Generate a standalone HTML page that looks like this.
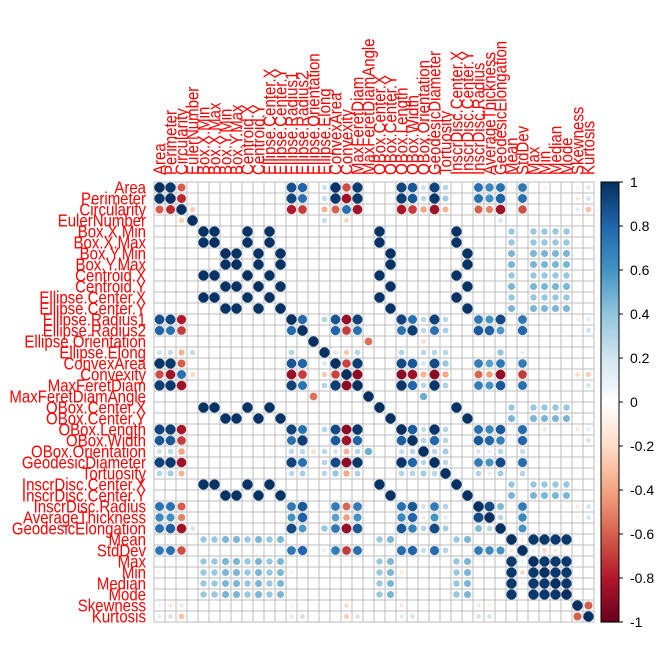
<!DOCTYPE html>
<html><head><meta charset="utf-8"><style>
html,body{margin:0;padding:0;background:#fff;}
svg text{font-family:"Liberation Sans",Arial,sans-serif;}
</style></head><body>
<svg id="chart" width="664" height="664" viewBox="0 0 664 664" xmlns="http://www.w3.org/2000/svg"></svg>
<script>
const variables = ["Area","Perimeter","Circularity","EulerNumber","Box.X.Min","Box.X.Max","Box.Y.Min","Box.Y.Max","Centroid.X","Centroid.Y","Ellipse.Center.X","Ellipse.Center.Y","Ellipse.Radius1","Ellipse.Radius2","Ellipse.Orientation","Ellipse.Elong","ConvexArea","Convexity","MaxFeretDiam","MaxFeretDiamAngle","OBox.Center.X","OBox.Center.Y","OBox.Length","OBox.Width","OBox.Orientation","GeodesicDiameter","Tortuosity","InscrDisc.Center.X","InscrDisc.Center.Y","InscrDisc.Radius","AverageThickness","GeodesicElongation","Mean","StdDev","Max","Min","Median","Mode","Skewness","Kurtosis"];
const baseValue = 0.03;
const xGroup = [4,5,8,10,20,27];
const yGroup = [6,7,9,11,21,28];
const xGroupCorr = 0.99;
const yGroupCorr = 0.99;
const intensityVars = [32,34,35,36,37];
const intensityCorr = 0.97;
const xIntensityCorr = 0.38;
const yIntensityCorr = 0.46;
const pairs = [
[0,1,0.97],[0,2,-0.6],[0,12,0.88],[0,13,0.8],[0,15,0.22],[0,16,0.98],[0,17,-0.65],[0,18,0.95],[0,22,0.92],[0,23,0.85],[0,24,0.22],[0,25,0.93],[0,26,0.3],[0,29,0.75],[0,30,0.65],[0,31,0.75],[0,33,0.72],[0,35,-0.1],[0,38,-0.1],[0,39,0.15],
[1,2,-0.75],[1,12,0.92],[1,13,0.75],[1,15,0.25],[1,16,0.97],[1,17,-0.85],[1,18,0.97],[1,22,0.95],[1,23,0.85],[1,24,0.28],[1,25,0.97],[1,26,0.35],[1,29,0.75],[1,30,0.62],[1,31,0.82],[1,33,0.75],[1,38,-0.15],[1,39,0.2],
[2,3,-0.25],[2,12,-0.8],[2,13,-0.7],[2,15,-0.35],[2,16,-0.6],[2,17,0.75],[2,18,-0.85],[2,22,-0.82],[2,23,-0.7],[2,24,-0.4],[2,25,-0.85],[2,26,-0.35],[2,29,-0.6],[2,30,-0.5],[2,31,-0.85],[2,33,-0.65],[2,38,0.15],[2,39,-0.3],
[3,15,0.25],[3,17,-0.22],[3,31,0.2],
[12,13,0.78],[12,15,0.3],[12,16,0.86],[12,17,-0.87],[12,18,0.93],[12,22,0.93],[12,23,0.75],[12,24,0.28],[12,25,0.93],[12,26,0.28],[12,29,0.72],[12,30,0.6],[12,31,0.9],[12,33,0.72],[12,35,-0.1],[12,38,-0.1],[12,39,0.15],
[13,16,0.8],[13,17,-0.7],[13,18,0.75],[13,22,0.75],[13,23,0.95],[13,24,0.28],[13,25,0.75],[13,26,0.33],[13,29,0.85],[13,30,0.82],[13,31,0.58],[13,33,0.8],[13,39,0.22],
[14,19,-0.55],[14,24,-0.2],
[15,16,0.18],[15,17,-0.27],[15,18,0.3],[15,22,0.3],[15,24,0.28],[15,25,0.3],[15,26,0.28],[15,31,0.38],[15,33,0.12],
[16,17,-0.68],[16,18,0.95],[16,22,0.9],[16,23,0.85],[16,24,0.2],[16,25,0.9],[16,26,0.38],[16,29,0.7],[16,30,0.55],[16,31,0.72],[16,33,0.7],
[17,18,-0.9],[17,22,-0.9],[17,23,-0.85],[17,24,-0.35],[17,25,-0.9],[17,26,-0.38],[17,29,-0.58],[17,30,-0.42],[17,31,-0.88],[17,33,-0.7],[17,38,-0.2],[17,39,-0.25],
[18,22,0.97],[18,23,0.8],[18,24,0.3],[18,25,0.97],[18,26,0.32],[18,29,0.7],[18,30,0.6],[18,31,0.85],[18,33,0.75],[18,39,0.2],
[19,24,0.5],
[22,23,0.83],[22,24,0.25],[22,25,0.98],[22,26,0.3],[22,29,0.75],[22,30,0.65],[22,31,0.85],[22,33,0.77],[22,35,-0.15],[22,38,-0.15],[22,39,0.15],
[23,24,0.3],[23,25,0.8],[23,26,0.3],[23,29,0.85],[23,30,0.8],[23,31,0.68],[23,33,0.8],[23,39,0.2],
[24,25,0.28],[24,26,0.35],[24,29,0.2],[24,30,0.12],[24,31,0.3],[24,33,0.25],
[25,26,0.28],[25,29,0.7],[25,30,0.6],[25,31,0.9],[25,33,0.77],
[26,29,0.3],[26,30,0.15],[26,31,0.35],[26,33,0.3],
[29,30,0.9],[29,31,0.45],[29,33,0.7],[29,38,-0.15],[29,39,0.2],
[30,31,0.28],[30,33,0.65],[30,38,-0.1],[30,39,0.2],
[31,33,0.6],
[32,33,-0.12],[33,35,-0.22],[33,36,-0.12],[33,34,0.1],
[38,39,-0.6]
];

const NS="http://www.w3.org/2000/svg";
const svg=document.getElementById('chart');
const n=variables.length;
const gridLeft=154, gridTop=182, cell=11;
function xPos(j){return gridLeft+(j+0.5)*cell;}
function yPos(i){return gridTop+(i+0.5)*cell;}
const M=[];
for(let i=0;i<n;i++){M.push([]);for(let j=0;j<n;j++)M[i].push(i===j?1:baseValue);}
function setPair(a,b,v){M[a][b]=v;M[b][a]=v;}
xGroup.forEach(a=>xGroup.forEach(b=>{if(a!==b)setPair(a,b,xGroupCorr);}));
yGroup.forEach(a=>yGroup.forEach(b=>{if(a!==b)setPair(a,b,yGroupCorr);}));
intensityVars.forEach(a=>intensityVars.forEach(b=>{if(a!==b)setPair(a,b,intensityCorr);}));
xGroup.forEach(a=>intensityVars.forEach(b=>setPair(a,b,xIntensityCorr)));
yGroup.forEach(a=>intensityVars.forEach(b=>setPair(a,b,yIntensityCorr)));
pairs.forEach(p=>setPair(p[0],p[1],p[2]));

const stops=[[-1,[103,0,31]],[-0.8,[178,24,43]],[-0.6,[214,96,77]],[-0.4,[244,165,130]],[-0.2,[253,219,199]],[0,[255,255,255]],[0.2,[209,229,240]],[0.4,[146,197,222]],[0.6,[67,147,195]],[0.8,[33,102,172]],[1,[5,48,97]]];
function color(v){
  for(let k=0;k<stops.length-1;k++){
    const a=stops[k],b=stops[k+1];
    if(v<=b[0]){const t=(v-a[0])/(b[0]-a[0]);
      const c=a[1].map((x,i)=>Math.round(x+(b[1][i]-x)*t));
      return `rgb(${c[0]},${c[1]},${c[2]})`;}
  }
  return 'rgb(5,48,97)';
}
function mk(tag,attrs){const e=document.createElementNS(NS,tag);for(const k in attrs)e.setAttribute(k,attrs[k]);svg.appendChild(e);return e;}

for(let k=0;k<=n;k++){
  const l1=mk('line',{x1:gridLeft,x2:gridLeft+n*cell,y1:gridTop+k*cell,y2:gridTop+k*cell,stroke:'#bebebe','stroke-width':1});
  
  
  const l2=mk('line',{y1:gridTop,y2:gridTop+n*cell,x1:gridLeft+k*cell,x2:gridLeft+k*cell,stroke:'#bebebe','stroke-width':1});
  
  
}
for(let i=0;i<n;i++)for(let j=0;j<n;j++){
  const v=M[i][j];
  const c=mk('circle',{cx:xPos(j),cy:yPos(i),r:(5.2*Math.sqrt(Math.abs(v))).toFixed(2),fill:color(v)});
  
  
}
for(let i=0;i<n;i++){
  const t=mk('text',{x:0,y:0,'text-anchor':'end','font-size':15,fill:'#ff0000',transform:`translate(146,${yPos(i)+6}) scale(1,1.18)`});
  t.textContent=variables[i];
  
  
  const u=mk('text',{x:0,y:0,'text-anchor':'start','font-size':15,fill:'#ff0000',transform:`translate(${xPos(i)+6},175) rotate(-90) scale(1,1.18)`});
  u.textContent=variables[i];
  
  
}
const cbLeft=601, cbW=18, cbTop=gridTop, cbH=n*cell;
const steps=200;
for(let k=0;k<steps;k++){
  const v=1-2*(k+0.5)/steps;
  const r=mk('rect',{x:cbLeft,y:cbTop+k*cbH/steps,width:cbW,height:cbH/steps+0.6,fill:color(v)});
  
  
}
const cbBorder=mk('rect',{x:cbLeft,y:cbTop,width:cbW,height:cbH,fill:'none',stroke:'#000','stroke-width':1});


const cbTicks=["1","0.8","0.6","0.4","0.2","0","-0.2","-0.4","-0.6","-0.8","-1"];
cbTicks.forEach((lab,k)=>{
  const y=cbTop+k*cbH/10;
  const tk=mk('line',{x1:cbLeft+cbW,x2:cbLeft+cbW+4,y1:y,y2:y,stroke:'#000'});
  
  
  const t=mk('text',{x:630,y:y+5,'font-size':14,fill:'#000'});
  t.textContent=lab;
  
  
});
</script>
</body></html>
